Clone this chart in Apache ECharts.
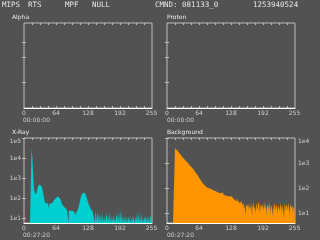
<!DOCTYPE html>
<html><head><meta charset="utf-8">
<script src="https://cdn.jsdelivr.net/npm/echarts@6/dist/echarts.min.js"></script>
<style>html,body{margin:0;padding:0;background:#525252;overflow:hidden}#c{width:320px;height:240px}</style>
</head><body><div id="c"></div>
<script>
const headerItems = ['MIPS', 'RTS', 'MPF', 'NULL', 'CMND: 081133_0', '1253940524'];
const panelTitles = ['Alpha', 'Proton', 'X-Ray', 'Background'];
const panelTimes = ['00:00:00', '00:00:00', '00:27:20', '00:27:20'];
const xTickLabels = [0, 64, 128, 192, 255];
const xMinorTicks = [16, 32, 48, 64, 80, 96, 112, 128, 144, 160, 176, 192, 208, 224, 240];
const emptyTicks = [2, 4, 6];
const xrayTickLabels = [10, 100, 1000, 10000, 100000];
const bgTickLabels = [10, 100, 1000, 10000];

// X-Ray counts per channel 0..255
const xray = [
  0,0,0,0,0,0,0,0,0,0,0,0,0,0,0,
  28000,24000,9000,2200,700,320,210,170,150,160,
  190,240,300,360,420,470,500,520,500,460,
  400,330,260,190,140,100,75,62,55,60,
  52,56,48,54,50,30,52,48,55,50,
  58,54,62,66,70,76,82,88,95,102,
  110,118,122,126,120,124,115,100,86,72,
  62,52,45,40,36,34,38,30,32,28,
  30,26,29,27,6,24,26,22,25,21,
  23,20,22,24,19,21,23,20,14,18,
  22,20,24,28,34,42,55,72,95,120,
  145,165,178,185,190,186,175,168,150,130,
  110,92,75,62,52,45,40,36,30,34,
  26,28,22,25,18,24,20,0,22,16,
  19,0,21,14,0,18,12,0,16,0,
  14,0,20,0,0,12,0,15,0,0,
  18,11,0,0,14,0,24,0,0,12,
  0,16,0,0,0,13,0,10,0,0,
  16,12,0,22,0,15,0,26,14,0,
  20,0,12,0,0,14,0,0,11,0,
  0,13,0,0,0,12,0,14,0,0,
  10,0,0,13,12,14,0,0,12,0,
  20,0,14,0,0,24,0,12,0,0,
  18,0,0,11,0,0,13,0,14,0,
  0,12,0,16,0,13,0,0,14,12,
  0
];

// Background counts per channel 0..255
const background = [
  0,0,0,0,0,0,0,0,0,0,0,0,0,0,0,0,
  3900,3700,3600,3400,3300,3100,2900,2800,2600,2450,
  2300,2200,2100,1950,1850,1750,1650,1560,1480,1400,1330,1260,1200,1150,
  1100,1040,990,930,880,830,790,750,710,670,640,610,580,
  560,520,490,460,430,400,370,345,320,300,280,260,245,
  225,210,195,185,175,165,150,140,135,128,120,112,108,104,
  100,98,96,110,92,90,95,88,86,100,84,82,90,
  85,80,78,88,76,74,72,82,70,66,75,68,64,62,
  64,70,58,62,56,66,54,60,52,58,55,50,56,
  52,48,56,46,50,44,54,42,48,45,40,46,42,38,
  40,36,42,30,38,34,28,36,26,32,30,24,28,
  26,22,30,20,24,18,26,14,22,20,8,24,18,16,
  22,16,26,12,20,24,14,28,18,7,22,17,30,14,20,24,10,18,26,16,
  13,22,19,28,15,9,24,17,21,14,26,18,12,23,16,32,14,20,8,22,
  17,25,13,19,27,15,10,21,24,16,18,7,22,14,26,20,12,17,23,15,
  9,21,18,24,13,16,28,14,19,10,22,17,15,6,20,25,13,18,16,22,
  12,19,26,14,8,21,17,24,15,13,20,10,18,16,14
];

const BG = '#525252', FRAME = '#bdbdbd', TXT = '#cfcfcf', TITLE = '#ececec';
const FONT = 'DejaVu Sans';
const XRAY_MIN = Math.pow(10, 0.75), BG_MIN = Math.pow(10, 0.6);

const grids = [
  { left: 24, top: 23, width: 128, height: 85 },
  { left: 167, top: 23, width: 128, height: 85 },
  { left: 24, top: 138, width: 128, height: 85 },
  { left: 167, top: 138, width: 128, height: 85 }
].map(g => Object.assign({ show: true, borderColor: FRAME, borderWidth: 1, backgroundColor: 'transparent' }, g));

const xAxis = [], yAxis = [];
grids.forEach((g, i) => {
  xAxis.push({
    gridIndex: i, type: 'value', min: 0, max: 256, position: 'bottom',
    axisLine: { show: true, lineStyle: { color: '#ffffff', width: 1 } },
    axisTick: { show: true, inside: true, length: 2, customValues: xMinorTicks, lineStyle: { color: FRAME } },
    axisLabel: { show: true, customValues: xTickLabels, color: TXT, fontSize: 6, fontFamily: FONT, margin: 2 },
    splitLine: { show: false }
  });
  xAxis.push({
    gridIndex: i, type: 'value', min: 0, max: 256, position: 'top',
    axisLine: { show: false },
    axisTick: { show: true, inside: true, length: 2, customValues: xMinorTicks, lineStyle: { color: FRAME } },
    axisLabel: { show: false }, splitLine: { show: false }
  });
});
function yPair(i, min, max, ticks, labels, labelSide) {
  ['left', 'right'].forEach(side => {
    const showLab = labels && side === labelSide;
    yAxis.push({
      gridIndex: i, type: 'log', logBase: 10, min: min, max: max, position: side,
      axisLine: { show: false },
      axisTick: { show: true, inside: true, length: 2, customValues: ticks, lineStyle: { color: FRAME } },
      axisLabel: showLab ? {
        show: true, customValues: labels, color: TXT, fontSize: 6, fontFamily: FONT, margin: 3,
        verticalAlignMaxLabel: 'top',
        formatter: v => '1e' + Math.round(Math.log10(v))
      } : { show: false },
      splitLine: { show: false }
    });
  });
}
yPair(0, 1, 10, emptyTicks, null, null);
yPair(1, 1, 10, emptyTicks, null, null);
yPair(2, XRAY_MIN, 1e5, xrayTickLabels, xrayTickLabels, 'left');
yPair(3, BG_MIN, 1e4, bgTickLabels, bgTickLabels, 'right');

function stepData(arr, floor) {
  const d = arr.map((v, i) => [i, v > 0 ? v : floor]);
  d.push([arr.length, arr[arr.length - 1] > 0 ? arr[arr.length - 1] : floor]);
  return d;
}
function hist(gi, arr, floor, color) {
  return {
    type: 'line', xAxisIndex: gi * 2, yAxisIndex: gi * 2, step: 'end', symbol: 'none',
    data: stepData(arr, floor), lineStyle: { width: 0, opacity: 0 },
    areaStyle: { color: color, opacity: 1, origin: 'start' }, silent: true, animation: false, clip: true
  };
}

const graphic = [];
const headerX = [2, 28, 65, 92, 155, 253];
headerItems.forEach((t, i) => graphic.push({
  type: 'text', left: headerX[i], top: 1,
  style: { text: t, fill: '#e6e6e6', font: '7.5px "DejaVu Sans Mono"' }
}));
const titlePos = [[12, 14], [167, 14], [12, 129], [167, 129]];
panelTitles.forEach((t, i) => graphic.push({
  type: 'text', left: titlePos[i][0], top: titlePos[i][1],
  style: { text: t, fill: TITLE, font: '6px "' + FONT + '"' }
}));
const timePos = [[23, 117], [167, 117], [23, 232], [167, 232]];
panelTimes.forEach((t, i) => graphic.push({
  type: 'text', left: timePos[i][0], top: timePos[i][1],
  style: { text: t, fill: TXT, font: '6px "' + FONT + '"' }
}));

const chart = echarts.init(document.getElementById('c'), null, { renderer: 'canvas' });
chart.setOption({
  backgroundColor: BG, animation: false,
  grid: grids, xAxis: xAxis, yAxis: yAxis, graphic: graphic,
  series: [
    hist(2, xray, XRAY_MIN, '#00cfd2'),
    hist(3, background, BG_MIN, '#ff9400')
  ]
});
</script></body></html>
